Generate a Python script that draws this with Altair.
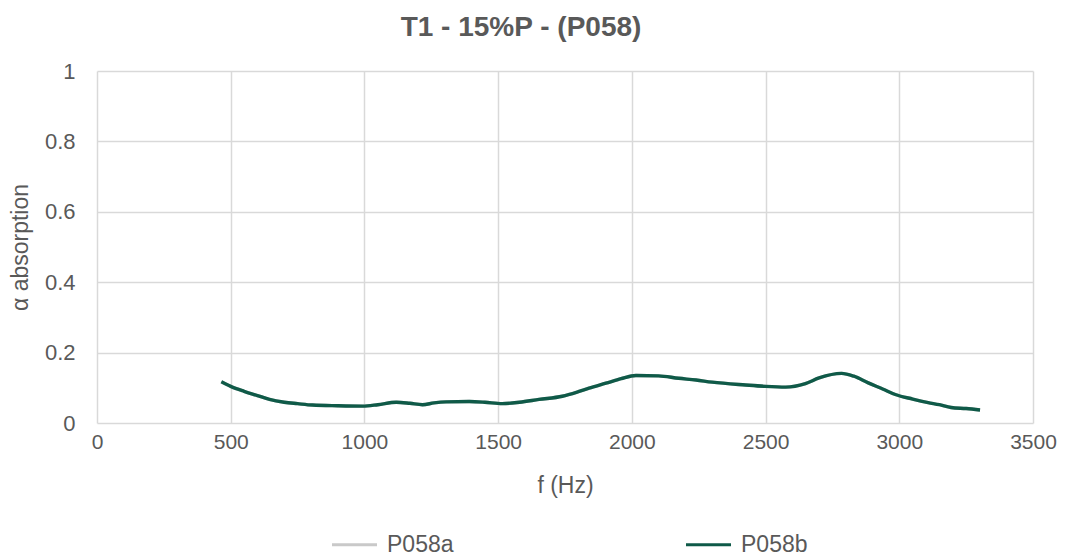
import altair as alt
import pandas as pd

freq_b = [465, 500, 550, 600, 645, 700, 750, 806, 900, 993, 1050, 1119, 1170, 1217, 1260,
          1305, 1392, 1450, 1515, 1580, 1653, 1740, 1800, 1840, 1903, 1960, 2015, 2100,
          2175, 2240, 2300, 2425, 2500, 2575, 2649, 2700, 2784, 2830, 2884, 2940, 2985,
          3050, 3108, 3150, 3194, 3250, 3302]
alpha_b = [0.117, 0.104, 0.090, 0.078, 0.067, 0.059, 0.055, 0.051, 0.049, 0.048, 0.052,
           0.059, 0.056, 0.052, 0.057, 0.060, 0.061, 0.059, 0.055, 0.059, 0.067, 0.076,
           0.089, 0.099, 0.113, 0.126, 0.135, 0.134, 0.127, 0.122, 0.116, 0.108, 0.104,
           0.102, 0.112, 0.128, 0.141, 0.133, 0.114, 0.096, 0.081, 0.068, 0.058, 0.052,
           0.044, 0.041, 0.037]

freq_a = freq_b
alpha_a = [0.117, 0.104, 0.090, 0.078, 0.067, 0.059, 0.055, 0.051, 0.049, 0.048, 0.052,
           0.059, 0.056, 0.052, 0.057, 0.060, 0.061, 0.059, 0.055, 0.059, 0.067, 0.076,
           0.089, 0.099, 0.113, 0.126, 0.135, 0.134, 0.127, 0.122, 0.116, 0.108, 0.104,
           0.102, 0.112, 0.128, 0.141, 0.133, 0.114, 0.096, 0.081, 0.068, 0.058, 0.052,
           0.044, 0.041, 0.037]

series = ["P058a", "P058b"]
colors = ["#c9c9c9", "#0f5a48"]

df = pd.concat([
    pd.DataFrame({"f": freq_a, "alpha": alpha_a, "series": series[0]}),
    pd.DataFrame({"f": freq_b, "alpha": alpha_b, "series": series[1]}),
])

FONT = "Liberation Sans"
TXT = "#595959"
GRID = "#d9d9d9"

chart = alt.Chart(df).mark_line(strokeWidth=3.4, interpolate="monotone").encode(
    x=alt.X("f:Q", title="f (Hz)",
            scale=alt.Scale(domain=[0, 3500], nice=False, zero=True),
            axis=alt.Axis(values=[0, 500, 1000, 1500, 2000, 2500, 3000, 3500],
                          format="d", labelPadding=8, titlePadding=22,
                          labelFlush=False, labelFontSize=21)),
    y=alt.Y("alpha:Q", title="α absorption",
            scale=alt.Scale(domain=[0, 1], nice=False),
            axis=alt.Axis(values=[0, 0.2, 0.4, 0.6, 0.8, 1.0], format="~g",
                          labelPadding=22, titlePadding=12, labelFlush=False)),
    color=alt.Color("series:N", scale=alt.Scale(domain=series, range=colors),
                    legend=alt.Legend(title=None, orient="none", direction="horizontal",
                                      legendX=233, legendY=449, columns=2,
                                      columnPadding=225, symbolType="stroke",
                                      symbolSize=2025, symbolStrokeWidth=3.2,
                                      labelFont=FONT, labelFontSize=23,
                                      labelColor=TXT, labelOffset=8)),
    order=alt.Order("series:N"),
).properties(
    width=936, height=352,
    title=alt.TitleParams("T1 - 15%P - (P058)", font=FONT, fontSize=28,
                          fontWeight="bold", color=TXT, anchor="middle",
                          dx=-44, offset=18),
    autosize=alt.AutoSizeParams(type="none"),
    padding={"left": 89, "top": 63, "right": 24, "bottom": 140},
).configure_view(stroke=None).configure_axis(
    grid=True, gridColor=GRID, gridWidth=1.5, domain=False, ticks=False,
    labelFont=FONT, labelFontSize=22, labelColor=TXT,
    titleFont=FONT, titleFontSize=23, titleColor=TXT, titleFontWeight="normal",
)

chart.save("out.html", embed_options={"renderer": "svg", "actions": False})
